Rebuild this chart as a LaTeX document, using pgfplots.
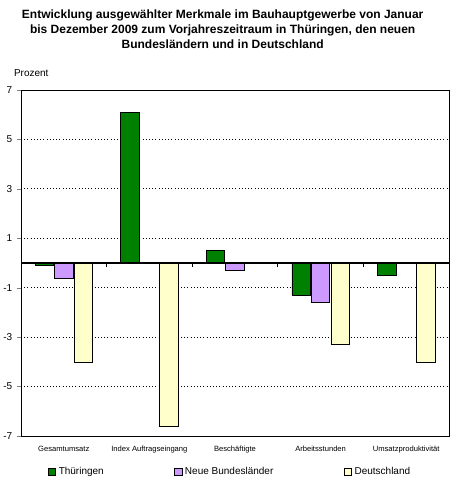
\documentclass[border=0pt]{standalone}
\usepackage{pgfplots}
\pgfplotsset{compat=1.18}
\usepackage{fontspec}
\setmainfont{Liberation Sans}

\definecolor{thgreen}{RGB}{0,128,0}
\definecolor{nblviolet}{RGB}{204,153,255}
\definecolor{dyellow}{RGB}{255,255,204}

\begin{document}
\begin{tikzpicture}
\path[use as bounding box] (0,0) rectangle (345pt,361.5pt);
\node[align=center, font=\bfseries\fontsize{9}{11.3}\selectfont, anchor=north]
  at (167pt,358pt) {Entwicklung ausgewählter Merkmale im Bauhauptgewerbe von Januar\\
  bis Dezember 2009 zum Vorjahreszeitraum in Thüringen, den neuen\\
  Bundesländern und in Deutschland};
\node[font=\fontsize{7.5}{9}\selectfont, anchor=west] at (7pt,306.5pt) {Prozent};
\begin{axis}[
    at={(15.75pt,34.5pt)},
    anchor=south west,
    scale only axis,
    width=321pt,
    height=259.5pt,
    xmin=-0.5, xmax=4.5,
    ymin=-7, ymax=7,
    ytick={-7,-5,-3,-1,1,3,5,7},
    xtick={0,1,2,3,4},
    xticklabels={Gesamtumsatz,Index Auftragseingang,Beschäftigte,Arbeitsstunden,Umsatzproduktivität},
    x tick label style={font=\fontsize{5.7}{6}\selectfont, yshift=-1pt},
    y tick label style={font=\fontsize{7.5}{9}\selectfont},
    /pgf/number format/assume math mode=true,
    xtick style={draw=none},
    ytick align=outside,
    ytick pos=left,
    major tick length=3pt,
    ymajorgrids,
    grid style={black, dotted, line width=0.6pt},
    axis line style={black, line width=0.7pt},
    ybar,
    bar width=0.215,
    legend columns=3,
    legend style={at={(axis description cs:0.063,-0.104)}, anchor=west,
      draw=none, fill=none, inner xsep=0pt,
      font=\fontsize{7.5}{9}\selectfont,
      /tikz/every even column/.append style={column sep=51pt}},
    legend image code/.code={\draw[#1, draw=black, line width=0.5pt] (0pt,-2.7pt) rectangle (5.4pt,2.7pt);},
    legend cell align=left,
  ]
\addplot[fill=thgreen, draw=black, line width=0.5pt, bar shift=-0.228] coordinates {
(0,-0.1) (1,6.1) (2,0.5) (3,-1.3) (4,-0.5)
};
\addlegendentry{Thüringen}
\addplot[fill=nblviolet, draw=black, line width=0.5pt, bar shift=0] coordinates {
(0,-0.6) (2,-0.3) (3,-1.6)
};
\addlegendentry{Neue Bundesländer}
\addplot[fill=dyellow, draw=black, line width=0.5pt, bar shift=0.228] coordinates {
(0,-4.0) (1,-6.6) (3,-3.3) (4,-4.0)
};
\addlegendentry{Deutschland}
\draw[black, line width=1.5pt] (axis cs:-0.5,0) -- (axis cs:4.5,0);
\pgfplotsinvokeforeach{0.5,1.5,2.5,3.5}{
  \draw[black, line width=0.7pt] (axis cs:#1,0) -- ([yshift=-3pt]axis cs:#1,0);
}
\end{axis}
\end{tikzpicture}
\end{document}
